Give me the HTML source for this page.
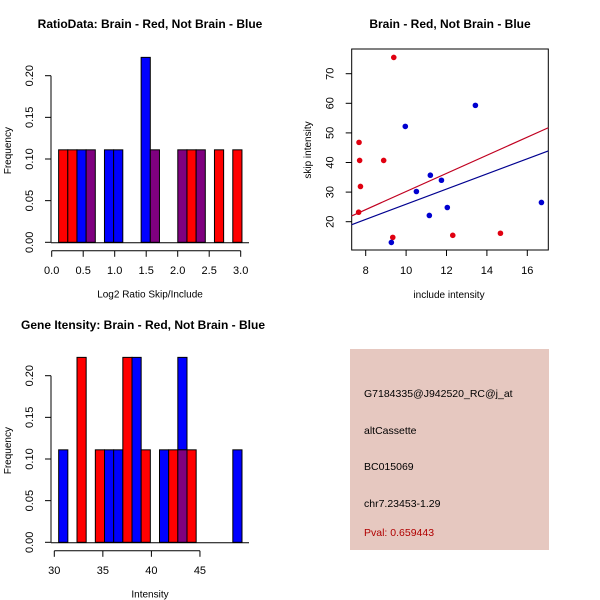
<!DOCTYPE html>
<html><head><meta charset="utf-8"><style>
body{margin:0;background:#fff}
svg{display:block;font-family:"Liberation Sans",sans-serif}
</style></head><body>
<svg id="c" width="600" height="600" xmlns="http://www.w3.org/2000/svg">
<rect x="0" y="0" width="600" height="600" fill="#fff"/>
<text x="150" y="28" text-anchor="middle" font-size="12" font-weight="bold">RatioData: Brain - Red, Not Brain - Blue</text>
<text x="450" y="28" text-anchor="middle" font-size="12" font-weight="bold">Brain - Red, Not Brain - Blue</text>
<text x="143" y="329" text-anchor="middle" font-size="12" font-weight="bold">Gene Itensity: Brain - Red, Not Brain - Blue</text>
<g>
<rect x="350" y="349" width="199" height="201" fill="#e6c8c0"/>
<text x="364" y="397" font-size="10.5">G7184335@J942520_RC@j_at</text>
<text x="364" y="434" font-size="10.5">altCassette</text>
<text x="364" y="470" font-size="10.5">BC015069</text>
<text x="364" y="507" font-size="10.5">chr7.23453-1.29</text>
<text x="364" y="536" font-size="10.5" fill="#b00000">Pval: 0.659443</text>
</g>
</svg>
<script>
// Top histogram data
const ratioBlue=[0,0,0.111,0.111,0,0.111,0.111,0,0,0.222,0.111,0,0,0.111,0,0.111,0,0,0,0];
const ratioRed=[0.111,0.111,0,0.111,0,0,0,0,0,0,0.111,0,0,0.111,0.111,0.111,0,0.111,0,0.111];
const ratioTicks=[0,0.5,1,1.5,2,2.5,3];
const ratioBinStart=0.11, ratioBinW=0.1455;
// Bottom histogram data
const intBlue=[0.111,0,0,0,0,0.111,0.111,0,0.222,0,0,0.111,0,0.222,0,0,0,0,0,0.111];
const intRed=[0,0,0.222,0,0.111,0,0,0.222,0,0.111,0,0,0.111,0.111,0.111,0,0,0,0,0];
const intTicks=[30,35,40,45];
const intBinStart=30.45, intBinW=0.944;
const freqTicks=[0,0.05,0.1,0.15,0.2];
// Scatter data
const redX=[7.67,7.70,7.74,7.65,8.89,9.39,9.34,12.31,14.67];
const redY=[46.8,40.7,31.9,23.2,40.7,75.5,14.7,15.4,16.1];
const blueX=[9.27,9.96,10.51,11.15,11.20,11.75,12.04,13.43,16.70];
const blueY=[13.0,52.2,30.2,22.1,35.7,34.0,24.8,59.3,26.5];
const redFit=[-0.4,3.06];
const blueFit=[0.3,2.56];
const sxTicks=[8,10,12,14,16];
const syTicks=[20,30,40,50,60,70];

const svg=document.getElementById('c');
const NS='http://www.w3.org/2000/svg';
function mk(tag,attrs,parent){const e=document.createElementNS(NS,tag);for(const k in attrs)e.setAttribute(k,attrs[k]);(parent||svg).appendChild(e);return e;}
function txt(x,y,s,size,extra,parent){const e=mk('text',Object.assign({x:x,y:y,'font-size':size,'text-anchor':'middle'},extra||{}),parent);e.textContent=s;return e;}

function hist(opts){
  const g=mk('g',{});
  
  
  const X=v=>opts.x0+(v-opts.xv0)*opts.xs;
  const Y=v=>opts.y0-v/0.05*41.65;
  for(let i=0;i<opts.blue.length;i++){
    const a=opts.binStart+i*opts.binW, b=a+opts.binW;
    const x1=X(a), x2=X(b), bl=opts.blue[i], rd=opts.red[i];
    const lo=Math.min(bl,rd), hi=Math.max(bl,rd);
    if(hi>lo){
      const r=mk('rect',{x:x1,y:Y(hi),width:x2-x1,height:Y(lo)-Y(hi),fill:bl>rd?'#0000ff':'#ff0000',stroke:'#000','stroke-width':1},g);
      
      
    }
    if(lo>0){
      const r=mk('rect',{x:x1,y:Y(lo),width:x2-x1,height:Y(0)-Y(lo),fill:'#7f007f',stroke:'#000','stroke-width':1},g);
      
      
    }
  }
  mk('line',{x1:opts.x0a,x2:opts.x1a,y1:Y(0)+0.5,y2:Y(0)+0.5,stroke:'#000'},g);
  const ya=mk('g',{},g);
  
  
  const yx=opts.yAxisX;
  mk('line',{x1:yx,x2:yx,y1:Y(0),y2:Y(0.2),stroke:'#000'},ya);
  freqTicks.forEach(t=>{mk('line',{x1:yx-6,x2:yx,y1:Y(t),y2:Y(t),stroke:'#000'},ya);
    txt(0,0,t.toFixed(2),11,{transform:`translate(${yx-18},${Y(t)}) rotate(-90)`},ya);});
  txt(0,0,'Frequency',10,{transform:`translate(11,${Y(0.11)}) rotate(-90)`,},ya);
  const xa=mk('g',{},g);
  
  
  const ay=opts.y0+8.5;
  mk('line',{x1:X(opts.ticks[0]),x2:X(opts.ticks[opts.ticks.length-1]),y1:ay,y2:ay,stroke:'#000'},xa);
  opts.ticks.forEach(t=>{mk('line',{x1:X(t),x2:X(t),y1:ay,y2:ay+6,stroke:'#000'},xa);
    txt(X(t),ay+23,opts.fmt(t),11,{},xa);});
  txt(opts.titleX,opts.y0+55,opts.xtitle,10,{},xa);
}
hist({name:'ratio-histogram',blue:ratioBlue,red:ratioRed,binStart:ratioBinStart,binW:ratioBinW,
  x0:51.7,xv0:0,xs:63,y0:242.3,ticks:ratioTicks,fmt:t=>t.toFixed(1),x0a:51,x1a:249,yAxisX:51,
  xtitle:'Log2 Ratio Skip/Include',titleX:150});
hist({name:'intensity-histogram',blue:intBlue,red:intRed,binStart:intBinStart,binW:intBinW,
  x0:54.3,xv0:30,xs:9.71,y0:542.3,ticks:intTicks,fmt:t=>String(t),x0a:51,x1a:249,yAxisX:51,
  xtitle:'Intensity',titleX:150});

(function(){
  const g=mk('g',{});
  
  
  const X=v=>365.7+(v-8)*20.2;
  const Y=v=>221.7-(v-20)*2.96;
  const L=351.7,R=548.3,T=49,B=250;
  mk('rect',{x:L,y:T,width:R-L,height:B-T,fill:'none',stroke:'#000'},g);
  const xmin=(L-365.7)/20.2+8, xmax=(R-365.7)/20.2+8;
  const lr=mk('line',{x1:L,x2:R,y1:Y(redFit[0]+redFit[1]*xmin),y2:Y(redFit[0]+redFit[1]*xmax),stroke:'#c00020','stroke-width':1.2},g);
  
  
  const lb=mk('line',{x1:L,x2:R,y1:Y(blueFit[0]+blueFit[1]*xmin),y2:Y(blueFit[0]+blueFit[1]*xmax),stroke:'#000090','stroke-width':1.2},g);
  
  
  redX.forEach((x,i)=>{const c=mk('circle',{cx:X(x),cy:Y(redY[i]),r:2.8,fill:'#e00010'},g);
    
    });
  blueX.forEach((x,i)=>{const c=mk('circle',{cx:X(x),cy:Y(blueY[i]),r:2.8,fill:'#0000d0'},g);
    
    });
  sxTicks.forEach(t=>{mk('line',{x1:X(t),x2:X(t),y1:B,y2:B+6,stroke:'#000'},g);txt(X(t),B+24,String(t),11,{},g);});
  syTicks.forEach(t=>{mk('line',{x1:L-6,x2:L,y1:Y(t),y2:Y(t),stroke:'#000'},g);
    txt(0,0,String(t),11,{transform:`translate(${L-18},${Y(t)}) rotate(-90)`},g);});
  txt(449,298,'include intensity',10,{},g);
  txt(0,0,'skip intensity',10,{transform:'translate(311,150) rotate(-90)',},g);
})();
</script>
</body></html>
